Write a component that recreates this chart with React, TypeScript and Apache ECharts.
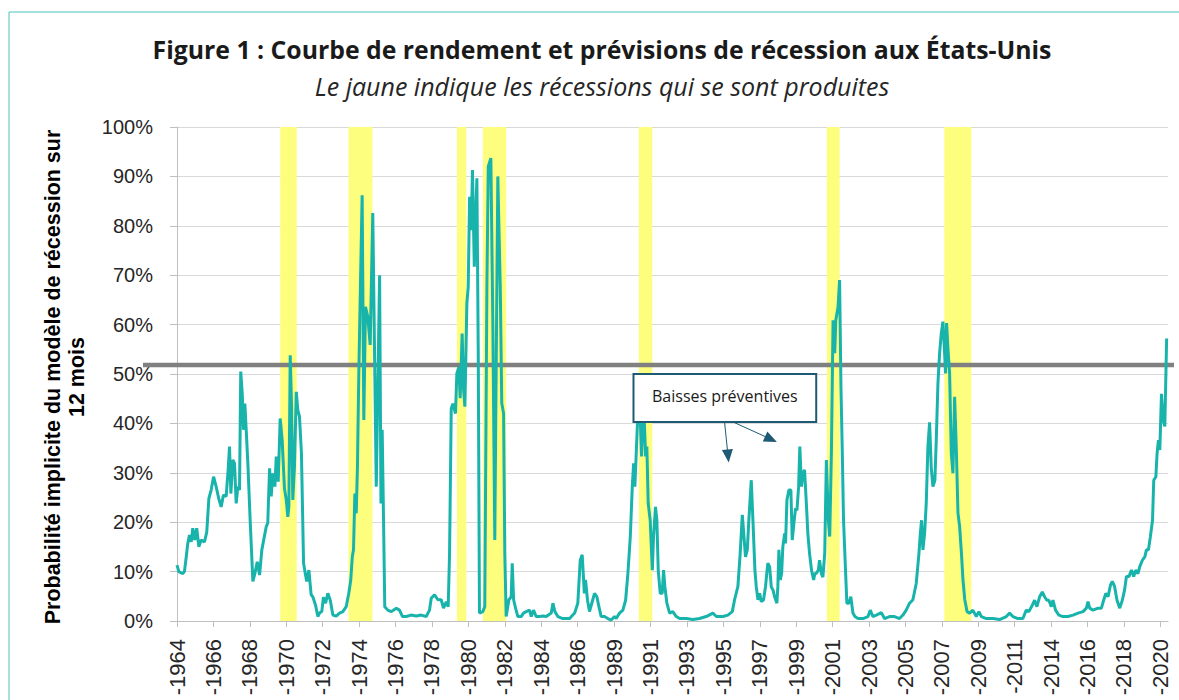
import React, { useEffect, useRef } from "react";
import * as echarts from "echarts";

const TITLE = "Figure 1 : Courbe de rendement et prévisions de récession aux États-Unis";
const SUBTITLE = "Le jaune indique les récessions qui se sont produites";
const Y_AXIS_TITLE_LINES = ["Probabilité implicite du modèle de récession sur", "12 mois"];

// One label every 24 samples (months) on the x axis
const TICK_LABELS = [
  "-1964", "-1966", "-1968", "-1970", "-1972", "-1974", "-1976", "-1978", "-1980", "-1982",
  "-1984", "-1986", "-1989", "-1991", "-1993", "-1995", "-1997", "-1999", "-2001", "-2003",
  "-2005", "-2007", "-2009", "-2011", "-2014", "-2016", "-2018", "-2020",
];
const MONTHS_PER_TICK = 24;
const X_MAX = 653;

// Recession periods (start, end) in month index
const RECESSIONS = [
  [68.0, 78.9], [113.0, 128.8], [184.4, 190.6], [201.5, 216.9],
  [304.3, 313.2], [428.2, 436.6], [505.6, 523.4],
];

// Threshold line (%)
const THRESHOLD = 51.8;

// Annotation
const ANNOTATION_TEXT = "Baisses préventives";
const ANNOTATION_BOX = [[300.8, 50.0], [421.2, 40.3]];
const ANNOTATION_ARROWS = [
  [[360.8, 40.3], [363.1, 33.4]],
  [[366.3, 40.3], [391.4, 36.8]],
];

// Model implied probability of recession over 12 months: month index and value (%)
const MONTH_INDEX = [
  0, 1.2, 3.8, 4.9, 6.1, 7.1, 8.2, 9.4, 10.4, 11.7, 13.0, 14.4, 15.9, 18.1, 19.6, 21.0, 22.5, 24.1, 25.8, 27.5,
  29.1, 30.6, 32.4, 33.7, 34.6, 35.5, 36.8, 37.9, 39.0, 40.1, 41.2, 42.0, 43.0, 43.8, 44.7, 45.6, 46.7, 48.2, 50.0, 51.3,
  52.9, 54.4, 55.9, 57.5, 58.8, 59.8, 61.0, 62.1, 63.1, 64.5, 65.4, 66.7, 68.0, 69.3, 70.8, 72.0, 73.0, 73.7, 74.6, 75.5,
  76.3, 77.4, 78.6, 79.6, 80.7, 82.0, 83.4, 84.7, 85.5, 86.9, 88.4, 89.5, 91.3, 92.8, 93.9, 95.4, 96.5, 97.9, 99.4, 101.0,
  102.7, 104.9, 107.1, 109.3, 111.5, 113.2, 114.5, 115.5, 116.3, 117.2, 118.1, 118.9, 119.8, 120.9, 122.0, 123.1, 124.2, 125.7, 127.3, 129.0,
  131.3, 133.5, 134.4, 135.2, 136.1, 136.9, 138.9, 141.2, 144.5, 146.6, 148.6, 151.0, 154.3, 157.6, 160.9, 164.2, 166.4, 167.5, 169.7, 171.9,
  174.1, 175.6, 177.4, 178.7, 179.6, 180.7, 181.8, 183.5, 184.4, 185.7, 186.6, 187.9, 188.8, 189.7, 191.0, 191.9, 192.8, 193.9, 194.7, 195.9,
  196.7, 197.6, 198.5, 199.3, 201.5, 202.8, 204.2, 205.1, 206.8, 208.1, 209.4, 210.4, 211.4, 213.0, 214.0, 215.2, 216.0, 216.9, 218.7, 220.2,
  220.9, 221.8, 223.1, 224.6, 226.8, 228.3, 230.1, 232.3, 233.4, 234.9, 236.7, 238.9, 241.1, 243.3, 246.6, 247.7, 249.0, 251.0, 254.2, 258.7,
  262.0, 264.1, 265.7, 267.0, 268.4, 269.2, 270.5, 271.8, 273.6, 275.1, 276.7, 278.0, 279.5, 281.7, 283.9, 286.1, 288.3, 289.4, 291.6, 293.8,
  295.6, 297.1, 298.7, 300.0, 300.9, 301.7, 302.6, 303.5, 304.3, 305.3, 306.1, 307.0, 307.9, 308.8, 309.6, 310.5, 311.8, 313.2, 314.0, 315.3,
  316.2, 317.1, 318.4, 319.7, 320.6, 321.5, 322.8, 324.6, 326.7, 329.0, 331.2, 335.6, 339.9, 344.3, 348.7, 353.1, 355.4, 359.7, 363.0, 365.9,
  367.4, 369.6, 371.1, 372.5, 373.6, 374.6, 375.8, 376.8, 378.4, 379.5, 380.8, 381.7, 382.8, 383.9, 385.0, 386.5, 387.8, 389.3, 390.5, 391.6,
  392.7, 393.8, 395.3, 395.9, 396.6, 397.5, 398.4, 399.2, 400.4, 401.0, 401.9, 403.2, 404.5, 405.4, 406.7, 407.6, 408.5, 409.6, 410.4, 411.5,
  412.4, 413.5, 414.7, 415.7, 416.8, 418.1, 419.5, 420.3, 421.2, 422.6, 423.4, 424.6, 425.6, 426.8, 427.9, 429.2, 430.1, 431.2, 432.3, 433.4,
  434.1, 435.6, 436.6, 437.5, 438.4, 439.2, 440.5, 441.4, 442.7, 444.0, 445.4, 446.7, 448.7, 452.0, 455.3, 456.8, 458.5, 460.8, 464.1, 466.2,
  469.5, 472.8, 476.1, 478.3, 480.5, 482.7, 484.9, 487.1, 488.9, 489.8, 490.6, 491.5, 492.6, 493.7, 494.8, 495.9, 497.0, 498.1, 499.4, 500.3,
  501.4, 502.5, 503.6, 504.7, 505.8, 506.4, 507.1, 508.2, 509.1, 510.2, 511.3, 512.4, 513.6, 514.6, 515.7, 516.9, 517.9, 519.1, 520.6, 522.3,
  524.4, 526.7, 528.4, 530.0, 533.3, 537.7, 542.0, 546.5, 548.6, 550.8, 554.1, 557.4, 559.6, 561.3, 563.6, 565.1, 566.6, 568.4, 570.2, 571.7,
  573.2, 574.5, 576.1, 577.2, 578.9, 581.1, 583.8, 587.1, 590.4, 593.7, 597.0, 599.2, 600.3, 601.4, 603.6, 606.9, 609.1, 610.6, 612.0, 613.5,
  615.1, 616.3, 617.8, 619.4, 621.2, 622.9, 624.4, 625.6, 627.3, 628.9, 630.4, 631.7, 633.2, 634.4, 636.1, 637.7, 638.8, 640.1, 641.4, 642.8,
  643.6, 645.0, 645.8, 646.7, 647.6, 648.7, 649.8, 650.9, 652.1,
];
const PROBABILITY = [
  11.3, 10.0, 9.6, 10.0, 13.0, 15.7, 17.4, 16.0, 18.8, 16.4, 18.8, 15.0, 16.4, 16.0, 18.0, 24.8, 26.5, 29.2, 27.2, 24.8,
  23.1, 25.5, 25.2, 30.6, 35.3, 25.8, 32.6, 31.9, 23.8, 27.2, 26.5, 50.5, 46.0, 38.7, 44.0, 38.7, 31.9, 20.4, 8.0, 9.6,
  12.0, 9.3, 14.4, 17.0, 19.1, 19.8, 30.9, 25.2, 29.9, 27.2, 33.3, 28.2, 41.0, 36.6, 26.9, 24.5, 21.1, 23.1, 53.8, 43.4,
  24.5, 31.2, 46.4, 42.7, 41.4, 33.9, 11.7, 9.3, 8.0, 10.3, 5.3, 4.9, 3.2, 0.9, 1.6, 1.9, 4.8, 3.6, 5.6, 4.2,
  1.2, 1.0, 1.6, 1.9, 2.9, 5.6, 8.3, 13.0, 14.4, 25.8, 21.8, 31.2, 50.1, 68.4, 86.2, 40.7, 63.6, 61.6, 55.9, 82.6,
  27.2, 70.0, 23.8, 38.7, 20.4, 2.9, 2.2, 1.9, 2.6, 2.2, 0.9, 0.9, 1.2, 1.0, 1.2, 0.9, 2.2, 4.6, 5.3, 4.3,
  4.3, 2.6, 3.9, 2.9, 13.7, 43.0, 44.0, 42.0, 50.1, 51.4, 45.1, 58.2, 47.0, 43.4, 64.3, 67.7, 85.9, 79.1, 91.3, 71.7,
  80.8, 89.6, 54.2, 1.6, 1.9, 2.9, 67.7, 92.0, 93.7, 60.9, 16.4, 54.2, 90.0, 67.7, 44.1, 42.0, 13.7, 0.9, 4.3, 4.9,
  11.7, 4.3, 2.6, 0.9, 0.9, 1.6, 1.9, 2.2, 0.9, 2.2, 0.9, 0.9, 1.0, 0.9, 1.6, 3.6, 1.9, 0.9, 0.5, 0.5,
  1.6, 3.6, 12.3, 13.4, 5.6, 8.3, 4.2, 1.9, 3.9, 5.6, 4.9, 2.9, 0.9, 0.9, 0.5, 0.2, 0.9, 0.5, 1.6, 2.2,
  4.2, 9.6, 17.1, 27.2, 31.9, 27.2, 33.9, 40.7, 50.1, 40.7, 33.3, 40.7, 40.7, 33.3, 35.3, 23.8, 20.4, 10.3, 17.1, 23.1,
  20.4, 10.3, 5.6, 5.6, 10.3, 6.9, 3.6, 1.6, 1.9, 0.9, 0.5, 0.5, 0.3, 0.5, 0.9, 1.6, 0.9, 0.9, 1.2, 1.9,
  4.3, 7.0, 13.7, 21.5, 17.1, 13.0, 14.4, 20.4, 28.5, 20.4, 10.3, 6.9, 4.3, 5.6, 3.9, 4.3, 7.0, 11.7, 11.0, 6.9,
  6.3, 4.9, 3.6, 6.9, 14.4, 8.3, 9.6, 15.0, 17.7, 15.7, 24.5, 26.5, 26.5, 16.4, 20.4, 22.8, 22.4, 27.2, 35.3, 27.2,
  29.9, 30.6, 23.8, 17.7, 13.7, 10.3, 8.3, 9.6, 9.6, 10.3, 12.3, 9.6, 8.9, 13.7, 32.6, 20.4, 17.1, 34.0, 60.9, 54.2,
  60.9, 63.6, 69.0, 47.4, 33.9, 20.4, 10.3, 3.6, 3.6, 4.9, 1.6, 0.9, 0.5, 0.5, 0.9, 2.2, 0.9, 1.2, 1.7, 0.5,
  0.9, 0.9, 0.5, 1.2, 2.2, 3.6, 4.3, 7.6, 13.7, 17.7, 20.4, 14.4, 17.7, 23.8, 35.3, 40.2, 31.0, 27.2, 28.5, 36.6,
  48.1, 54.2, 58.2, 60.6, 54.2, 50.1, 60.3, 54.2, 50.1, 33.9, 29.9, 45.4, 33.9, 21.9, 19.1, 13.7, 8.3, 4.3, 1.9, 1.6,
  2.2, 0.9, 1.9, 0.9, 0.5, 0.5, 0.3, 0.9, 1.6, 0.9, 0.5, 0.5, 2.2, 1.9, 3.2, 4.2, 2.9, 4.9, 5.9, 4.9,
  4.2, 4.2, 2.9, 4.2, 2.2, 1.2, 0.9, 0.9, 1.2, 1.6, 1.9, 2.6, 3.9, 2.6, 2.2, 2.6, 2.6, 4.2, 5.6, 4.9,
  7.3, 8.0, 7.0, 4.2, 2.6, 4.2, 6.3, 9.0, 9.0, 10.3, 9.0, 10.3, 9.6, 11.0, 12.3, 13.0, 14.4, 14.4, 17.1, 20.4,
  28.5, 29.2, 33.9, 36.6, 34.6, 46.0, 40.7, 39.4, 57.2,
];

const TEAL = "#18B4AB";
const YELLOW = "#FEFE7E";
const NAVY = "#1F5A74";

export default function App() {
  const ref = useRef<HTMLDivElement>(null);

  useEffect(() => {
    if (!ref.current) return;
    const chart = echarts.init(ref.current, undefined, { renderer: "svg" });
    const lineData = MONTH_INDEX.map((m, i) => [m, PROBABILITY[i]]);

    const option: any = {
      animation: false,
      backgroundColor: "#ffffff",
      title: [
        {
          text: TITLE,
          left: 597,
          top: 31,
          textAlign: "center",
          textStyle: { fontFamily: "Open Sans", fontWeight: "bold", fontSize: 24.8, color: "#1a1a1a" },
        },
        {
          text: SUBTITLE,
          left: 597,
          top: 68,
          textAlign: "center",
          textStyle: { fontFamily: "Open Sans", fontStyle: "italic", fontWeight: "normal", fontSize: 25, color: "#262626" },
        },
      ],
      grid: { left: 177, right: 11, top: 127, bottom: 79, containLabel: false },
      xAxis: {
        type: "value",
        min: 0,
        max: X_MAX,
        interval: MONTHS_PER_TICK,
        axisLine: { show: true, lineStyle: { color: "#bfbfbf", width: 1 } },
        axisTick: { show: true, length: 6, lineStyle: { color: "#bfbfbf" } },
        axisLabel: {
          rotate: 90,
          margin: 18,
          fontSize: 22,
          fontFamily: "Liberation Sans",
          color: "#262626",
          showMaxLabel: false,
          formatter: (v: number) => {
            if (v % MONTHS_PER_TICK !== 0) return "";
            return TICK_LABELS[v / MONTHS_PER_TICK] ?? "";
          },
        },
        splitLine: { show: false },
      },
      yAxis: {
        type: "value",
        min: 0,
        max: 100,
        interval: 10,
        axisLine: { show: true, lineStyle: { color: "#bfbfbf" } },
        axisTick: { show: true, length: 7, lineStyle: { color: "#bfbfbf" } },
        axisLabel: { formatter: "{value}%", margin: 24, fontSize: 20, fontFamily: "Liberation Sans", color: "#262626" },
        splitLine: { show: true, lineStyle: { color: "#d9d9d9", width: 1 } },
      },
      series: [
        {
          type: "line",
          name: "Récessions",
          data: [],
          z: 1,
          silent: true,
          markArea: {
            silent: true,
            itemStyle: { color: YELLOW },
            data: RECESSIONS.map(([a, b]) => [{ xAxis: a }, { xAxis: b }]),
          },
        },
        {
          type: "line",
          name: "Probabilité",
          data: lineData,
          z: 3,
          showSymbol: false,
          silent: true,
          lineStyle: { color: TEAL, width: 3 },
          itemStyle: { color: TEAL },
          markLine: {
            silent: true,
            symbol: ["none", "triangle"],
            symbolSize: [11, 13],
            label: { show: false },
            lineStyle: { color: NAVY, width: 1, type: "solid" },
            emphasis: { disabled: true },
            data: ANNOTATION_ARROWS.map(([s, e]) => [{ coord: s }, { coord: e }]),
          },
        },
      ],
    };
    chart.setOption(option);

    const p1 = chart.convertToPixel({ gridIndex: 0 }, ANNOTATION_BOX[0]) as number[];
    const p2 = chart.convertToPixel({ gridIndex: 0 }, ANNOTATION_BOX[1]) as number[];
    const yT = chart.convertToPixel({ yAxisIndex: 0 }, THRESHOLD) as number;
    const xL = chart.convertToPixel({ xAxisIndex: 0 }, 0) as number;
    const xR = chart.convertToPixel({ xAxisIndex: 0 }, X_MAX) as number;
    const yTop = chart.convertToPixel({ yAxisIndex: 0 }, 100) as number;
    const yBottom = chart.convertToPixel({ yAxisIndex: 0 }, 0) as number;
    const yMid = (yTop + yBottom) / 2 + 3;

    chart.setOption({
      graphic: [
        {
          type: "rect",
          silent: true,
          z: 0,
          shape: { x: 9, y: 12, width: 1200, height: 720 },
          style: { fill: "none", stroke: "#4cc3bf", lineWidth: 1 },
        },
        ...Y_AXIS_TITLE_LINES.map((line, i) => ({
          type: "text",
          silent: true,
          z: 5,
          x: xL - 124 + i * 24,
          y: yMid,
          rotation: Math.PI / 2,
          style: {
            text: line,
            fontFamily: "Liberation Sans",
            fontWeight: "bold",
            fontSize: 21.5,
            fill: "#000000",
            align: "center",
            verticalAlign: "middle",
          },
        })),
        {
          type: "line",
          silent: true,
          z: 2,
          shape: { x1: xL - 34, y1: yT, x2: xR + 6, y2: yT },
          style: { stroke: "#808080", lineWidth: 4.5 },
        },
        {
          type: "rect",
          silent: true,
          z: 10,
          shape: { x: p1[0], y: p1[1], width: p2[0] - p1[0], height: p2[1] - p1[1] },
          style: { fill: "#ffffff", stroke: NAVY, lineWidth: 2 },
        },
        {
          type: "text",
          silent: true,
          z: 11,
          x: (p1[0] + p2[0]) / 2,
          y: (p1[1] + p2[1]) / 2 - 2,
          style: {
            text: ANNOTATION_TEXT,
            fontFamily: "Open Sans",
            fontSize: 16,
            fill: "#1a1a1a",
            align: "center",
            verticalAlign: "middle",
          },
        },
      ],
    });

    return () => chart.dispose();
  }, []);

  return (
    <div
      ref={ref}
      style={{ position: "absolute", left: 0, top: 0, width: 1179, height: 700, background: "#ffffff" }}
    />
  );
}
